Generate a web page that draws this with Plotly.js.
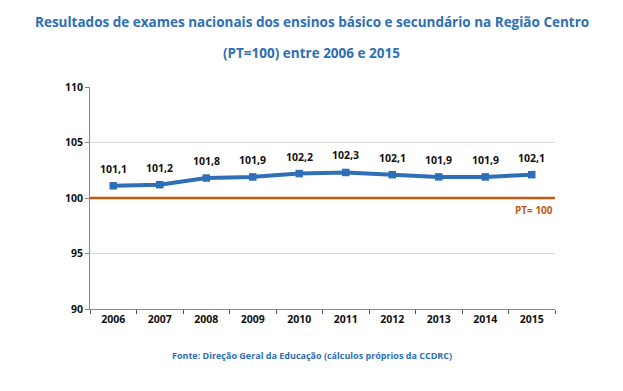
<!DOCTYPE html>
<html><head><meta charset="utf-8">
<script src="https://cdn.plot.ly/plotly-3.0.1.min.js"></script>
<style>html,body{margin:0;padding:0;background:#fff}#c{width:623px;height:391px}</style>
</head><body><div id="c"></div>
<script>
const years = ['2006','2007','2008','2009','2010','2011','2012','2013','2014','2015'];
const values = [101.1,101.2,101.8,101.9,102.2,102.3,102.1,101.9,101.9,102.1];
const labels = ['101,1','101,2','101,8','101,9','102,2','102,3','102,1','101,9','101,9','102,1'];
const ptLevel = 100;
const yTicks = [90,95,100,105,110];

const blue = '#2E6FB7';
const orange = '#C55A11';
const F = 'Open Sans, sans-serif';
const pageCenter = (311.5 - 90) / 465;

const labelAnns = years.map((yr, i) => ({
  x: i, y: values[i], xref: 'x', yref: 'y', yshift: 17, xanchor: 'center', yanchor: 'middle',
  text: labels[i], showarrow: false, font: {family: F, size: 10.5, color: '#111', weight: 'bold'}
}));

Plotly.newPlot('c', [{
  x: years, y: values, type: 'scatter', mode: 'lines+markers',
  line: {color: blue, width: 4},
  marker: {symbol: 'square', size: 7.5, color: blue},
  cliponaxis: false, hoverinfo: 'skip'
}], {
  width: 623, height: 391,
  margin: {l: 90, r: 68, t: 87, b: 82},
  paper_bgcolor: '#fff', plot_bgcolor: '#fff',
  showlegend: false,
  font: {family: F},
  xaxis: {
    type: 'category', categoryarray: years, range: [-0.5, years.length - 0.5],
    tickson: 'boundaries', ticks: 'outside', ticklen: 4, tickangle: 0,
    tickcolor: '#555', showline: true, linecolor: '#888', linewidth: 1,
    showgrid: false, zeroline: false,
    tickfont: {family: F, size: 10.5, color: '#111', weight: 'bold'}
  },
  yaxis: {
    range: [90, 110], tickvals: yTicks, ticktext: yTicks.map(String),
    ticks: 'outside', ticklen: 4, tickcolor: '#888',
    showline: true, linecolor: '#888', linewidth: 1,
    gridcolor: '#D9D9D9', gridwidth: 1, zeroline: false,
    tickfont: {family: F, size: 10.5, color: '#111', weight: 'bold'}
  },
  shapes: [{type: 'line', xref: 'paper', x0: 0, x1: 1, yref: 'y', y0: ptLevel, y1: ptLevel,
            line: {color: orange, width: 2.5}}],
  annotations: labelAnns.concat([
    {xref: 'paper', yref: 'paper', x: pageCenter, y: 1, yshift: 65, xanchor: 'center', yanchor: 'middle',
     text: 'Resultados de exames nacionais dos ensinos básico e secundário na Região Centro',
     showarrow: false, font: {family: F, size: 13.5, color: blue, weight: 'bold'}},
    {xref: 'paper', yref: 'paper', x: pageCenter, y: 1, yshift: 34, xanchor: 'center', yanchor: 'middle',
     text: '(PT=100) entre 2006 e 2015',
     showarrow: false, font: {family: F, size: 13.5, color: blue, weight: 'bold'}},
    {xref: 'paper', yref: 'y', x: 1, y: ptLevel, yshift: -12, xanchor: 'right', yanchor: 'middle',
     text: 'PT= ' + ptLevel, showarrow: false, font: {family: F, size: 10, color: orange, weight: 'bold'}},
    {xref: 'paper', yref: 'paper', x: pageCenter, y: 0, yshift: -46, xanchor: 'center', yanchor: 'middle',
     text: 'Fonte: Direção Geral da Educação (cálculos próprios da CCDRC)',
     showarrow: false, font: {family: F, size: 9, color: blue, weight: 'bold'}}
  ])
}, {displayModeBar: false, staticPlot: true});
</script></body></html>
